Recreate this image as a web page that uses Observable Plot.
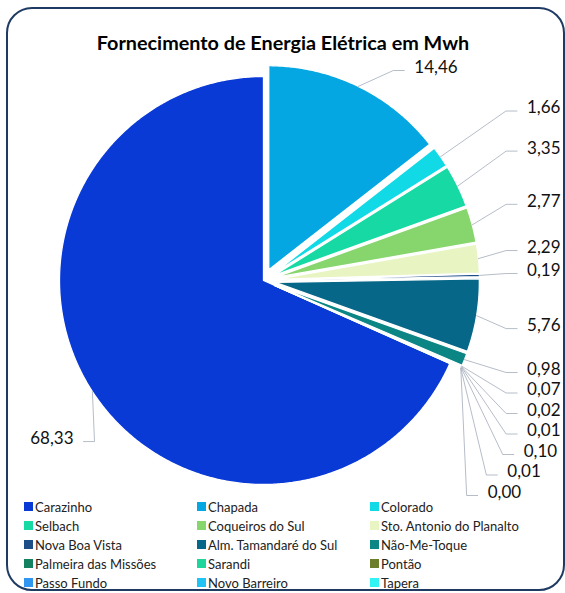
<!DOCTYPE html>
<html><head><meta charset="utf-8">
<script src="https://cdn.jsdelivr.net/npm/d3@7"></script>
<script src="https://cdn.jsdelivr.net/npm/@observablehq/plot@0.6"></script>
<style>
html,body{margin:0;padding:0;background:#fff;}
body{width:565px;height:593px;position:relative;overflow:hidden;font-family:Lato,"Open Sans",sans-serif;}
#frame{position:absolute;left:6px;top:7px;width:559px;height:584px;box-sizing:border-box;border:2px solid #1f3b63;border-radius:26px;}
#title{position:absolute;left:0;top:30px;width:566px;text-align:center;font-weight:bold;font-size:19.8px;line-height:24px;color:#000;}
#chart{position:absolute;left:0;top:55px;}
#legend{position:absolute;left:24px;top:497px;display:grid;grid-template-columns:173px 173px 173px;grid-auto-rows:19px;font-size:13px;color:#222;}
.item{display:flex;align-items:center;white-space:nowrap;}
.sw{width:9px;height:9px;margin-right:2px;flex:none;}
</style></head><body>
<div id="frame"></div>
<div id="title">Fornecimento de Energia Elétrica em Mwh</div>
<div id="chart"></div>
<div id="legend"></div>
<script>
const names = ["Carazinho","Chapada","Colorado","Selbach","Coqueiros do Sul","Sto. Antonio do Planalto","Nova Boa Vista","Alm. Tamandaré do Sul","Não-Me-Toque","Palmeira das Missões","Sarandi","Pontão","Passo Fundo","Novo Barreiro","Tapera"];
const values = [68.33,14.46,1.66,3.35,2.77,2.29,0.19,5.76,0.98,0.07,0.02,0.01,0.10,0.01,0.00];
const colors = ["#0a3ad6","#05a7e2","#12d9e6","#16d9a3","#87d56d","#e8f5c3","#1e4e86","#066789","#0c8585","#148261","#1ed69c","#6d7e2a","#3196ef","#1fc4f5","#33f2f4"];

// layout constants
const W = 565, H = 440;
const cx = 263, cy = 225, R = 204, explode = 12;
const Rl = 1.45 * R, gap = 20.5, yTop = 15, yBottom = 440, xRight = 561, xLeft = 30;
const fmt = v => d3.format(".2f")(v).replace(".", ",");

const total = d3.sum(values);
const start = 2 * Math.PI * (1 - values[0] / total);
const arcs = d3.pie().sort(null).startAngle(start).endAngle(start + 2 * Math.PI)(values);

// slice polygons
const slicePts = [];
arcs.forEach((a, i) => {
  if (a.endAngle - a.startAngle <= 0) return;
  const m = (a.startAngle + a.endAngle) / 2;
  const e = i === 0 ? 0 : explode;
  const ox = cx + e * Math.sin(m), oy = cy - e * Math.cos(m);
  slicePts.push({name: names[i], x: ox, y: oy});
  const n = Math.max(2, Math.ceil((a.endAngle - a.startAngle) / (Math.PI / 360)));
  for (let k = 0; k <= n; k++) {
    const t = a.startAngle + (a.endAngle - a.startAngle) * k / n;
    slicePts.push({name: names[i], x: ox + R * Math.sin(t), y: oy - R * Math.cos(t)});
  }
});

// labels
const labels = arcs.map((a, i) => {
  const m = (a.startAngle + a.endAngle) / 2;
  const e = i === 0 ? 0 : explode;
  const ax = cx + e * Math.sin(m) + R * Math.sin(m);
  const ay = cy - e * Math.cos(m) - R * Math.cos(m);
  const right = Math.sin(m) >= 0;
  return {name: names[i], label: fmt(values[i]), m, ax, ay, right,
          ix: cx + Rl * Math.sin(m), iy: cy - Rl * Math.cos(m)};
});
function place(group, dir) {
  group.sort((p, q) => dir * (p.m % (2*Math.PI)) - dir * (q.m % (2*Math.PI)));
  let prev = -Infinity;
  group.forEach(l => {
    let y = Math.max(l.iy, yTop);
    if (y < prev + gap) y = prev + gap;
    l.ey = y; prev = y;
  });
  let next = Infinity;
  for (let j = group.length - 1; j >= 0; j--) {
    const l = group[j];
    let y = Math.min(l.ey, yBottom, next - gap);
    l.ey = y; next = y;
  }
  group.forEach(l => {
    const y = l.ey;
    let x;
    if (Math.abs(y - l.iy) < 0.5 || y === yTop) x = l.ix;
    else { const dy = y - cy; x = cx + (l.right ? 1 : -1) * Math.sqrt(Math.max(0, Rl*Rl - dy*dy)); }
    const tw = l.label.length * 8.6;
    if (l.right) x = Math.min(x, xRight - tw - 21);
    else x = Math.max(x, xLeft + tw + 21);
    l.ex = x;
    l.hx = x + (l.right ? 11 : -11);
    l.tx = x + (l.right ? 21 : -21);
  });
}
place(labels.filter(l => l.right), 1);
place(labels.filter(l => !l.right), -1);
const leaderPts = labels.flatMap(l => [
  {name: l.name, x: l.ax, y: l.ay},
  {name: l.name, x: l.ex, y: l.ey},
  {name: l.name, x: l.hx, y: l.ey}
]);

const chart = Plot.plot({
  width: W, height: H, margin: 0,
  x: {domain: [0, W], range: [0, W], axis: null},
  y: {domain: [0, H], range: [0, H], axis: null},
  color: {domain: names, range: colors},
  style: {fontFamily: "Lato, 'Open Sans', sans-serif", overflow: "visible", background: "transparent"},
  marks: [
    Plot.line(slicePts, {x: "x", y: "y", z: "name", fill: "name", stroke: "white", strokeWidth: 1.3, curve: "linear-closed"}),
    Plot.line(leaderPts, {x: "x", y: "y", z: "name", stroke: "#a3acba", strokeWidth: 0.8}),
    Plot.text(labels.filter(l => l.right), {x: "tx", y: "ey", dy: -3, text: "label", textAnchor: "start", fontSize: 17, fill: "#111"}),
    Plot.text(labels.filter(l => !l.right), {x: "tx", y: "ey", dy: -3, text: "label", textAnchor: "end", fontSize: 17, fill: "#111"})
  ]
});
document.getElementById("chart").appendChild(chart);

const legend = document.getElementById("legend");
names.forEach((n, i) => {
  const it = document.createElement("div"); it.className = "item";
  const sw = document.createElement("span"); sw.className = "sw"; sw.style.background = colors[i];
  const tx = document.createElement("span"); tx.textContent = n;
  it.appendChild(sw); it.appendChild(tx); legend.appendChild(it);
});
</script>
</body></html>
